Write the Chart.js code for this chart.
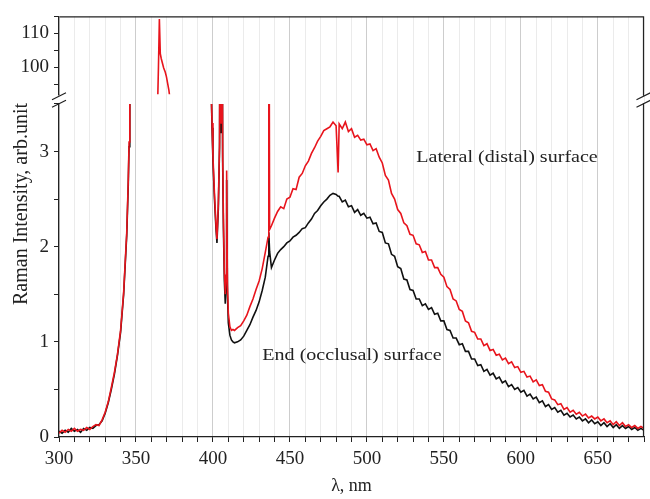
<!DOCTYPE html>
<html>
<head>
<meta charset="utf-8">
<script src="https://cdn.jsdelivr.net/npm/chart.js@4/dist/chart.umd.min.js"></script>
<style>
  html, body { margin: 0; padding: 0; background: #fff; }
  #wrap { width: 650px; height: 499px; }
</style>
</head>
<body>
<div id="wrap"><canvas id="ramanChart" width="650" height="499"></canvas></div>
<script>
// wavelength grid, nm
var wavelength = [
  300, 302, 304, 306, 308, 310, 312, 314, 316, 318, 320, 322, 324, 326, 328, 330, 332, 334, 336, 338, 340, 342, 344,
  345, 345.5, 346, 347,
  355, 362, 364, 364.6, 365.2, 365.8, 366.4, 367.2, 368, 369, 369.8, 370.6, 371.4, 372, 373, 380, 390, 398, 398.8,
  399.4, 400, 401, 402, 402.6, 403.5, 404.3, 404.8, 405.3, 405.8, 406.3, 406.8, 407.4, 408, 408.5, 408.9, 409.4, 410, 411, 412, 413, 414,
  416, 418, 420, 422, 424, 426, 428, 430, 432, 434,
  435.8, 436.3, 436.8, 438,
  440, 442, 444, 446, 448, 450, 452, 454, 456, 458, 460, 462, 464, 466, 468, 470, 472, 474, 476, 478, 480,
  481.3,
  482, 484, 486, 488, 490, 492, 494, 496, 498, 500,
  502, 504, 506, 508, 510, 512, 514, 516, 518, 520,
  522, 524, 526, 528, 530, 532, 534, 536, 538, 540,
  542, 544, 546, 548, 550, 552, 554, 556, 558, 560,
  562, 564, 566, 568, 570, 572, 574, 576, 578, 580,
  582, 584, 586, 588, 590, 592, 594, 596, 598, 600,
  602, 604, 606, 608, 610, 612, 614, 616, 618, 620,
  622, 624, 626, 628, 630, 632, 634, 636, 638, 640,
  642, 644, 646, 648, 650, 652, 654, 656, 658, 660,
  662, 664, 666, 668, 670, 672, 674, 676, 678, 680
];

// Lateral (distal) surface - red
var lateral = [
  0.04, 0.07, 0.05, 0.08, 0.06, 0.09, 0.06, 0.08, 0.07, 0.1, 0.08, 0.11, 0.13, 0.12, 0.18, 0.26, 0.37, 0.52, 0.68, 0.87, 1.12, 1.52, 2.15,
  2.7, 3.1, 3.7, 12,
  40, 75, 88, 100, 114.2, 104, 102.6, 101.2, 99.8, 98.6, 97.2, 95.2, 93.2, 91, 85, 60, 35, 12, 3.7,
  3.3, 2.95, 2.55, 2.22, 2.08, 2.45, 3.1, 6, 3.3, 6, 3.0, 2.3, 1.75, 1.5, 1.7, 2.8, 1.6, 1.3, 1.16, 1.12, 1.13, 1.12,
  1.15, 1.17, 1.22, 1.28, 1.37, 1.45, 1.55, 1.64, 1.77, 1.94,
  2.1, 6, 2.18, 2.22,
  2.3, 2.37, 2.42, 2.4, 2.5, 2.52, 2.61, 2.6, 2.73, 2.77, 2.85, 2.9, 2.98, 3.04, 3.11, 3.16, 3.22, 3.24, 3.26, 3.31, 3.27,
  2.78,
  3.29, 3.24, 3.31, 3.21, 3.24, 3.15, 3.17, 3.12, 3.13, 3.07,
  3.08, 3.01, 3.03, 2.94, 2.88, 2.75, 2.7, 2.56, 2.5, 2.39,
  2.35, 2.25, 2.22, 2.13, 2.12, 2.03, 2.02, 1.94, 1.95, 1.86,
  1.86, 1.78, 1.78, 1.71, 1.68, 1.58, 1.55, 1.45, 1.43, 1.34,
  1.32, 1.22, 1.2, 1.11, 1.1, 1.03, 1.03, 0.96, 0.98, 0.91,
  0.92, 0.86, 0.87, 0.81, 0.83, 0.77, 0.79, 0.73, 0.74, 0.68,
  0.69, 0.63, 0.64, 0.58, 0.6, 0.54, 0.55, 0.48, 0.47, 0.4,
  0.39, 0.34, 0.35, 0.29, 0.31, 0.26, 0.28, 0.24, 0.26, 0.22,
  0.24, 0.2, 0.22, 0.19, 0.21, 0.17, 0.19, 0.15, 0.17, 0.13,
  0.16, 0.12, 0.15, 0.11, 0.13, 0.1, 0.12, 0.09, 0.11, 0.09
];

// End (occlusal) surface - black
var occlusal = [
  0.06, 0.04, 0.07, 0.05, 0.09, 0.06, 0.08, 0.05, 0.09, 0.07, 0.1, 0.09, 0.12, 0.13, 0.17, 0.25, 0.36, 0.5, 0.66, 0.86, 1.1, 1.5, 2.12,
  2.65, 3.05, 3.7, 12,
  40, 75, 88, 100, 114, 103, 102, 100.5, 99, 98, 96.5, 95, 93, 91, 85, 60, 35, 12, 3.7,
  3.25, 2.9, 2.5, 2.18, 2.04, 2.4, 3.05, 6, 3.2, 6, 2.9, 2.2, 1.65, 1.4, 1.6, 2.7, 1.5, 1.2, 1.07, 1.02, 1.0, 0.99,
  1.0, 1.02, 1.06, 1.12, 1.18, 1.26, 1.33, 1.42, 1.54, 1.68,
  1.9, 2.15, 1.95, 1.78,
  1.86, 1.93, 1.97, 2.0, 2.04, 2.06, 2.1, 2.12, 2.15, 2.19, 2.2, 2.25, 2.29, 2.35, 2.38, 2.43, 2.47, 2.5, 2.54, 2.56, 2.55,
  2.53,
  2.53, 2.47, 2.49, 2.42, 2.43, 2.36, 2.39, 2.33, 2.35, 2.3,
  2.31, 2.24, 2.25, 2.16, 2.15, 2.04, 2.03, 1.92, 1.9, 1.79,
  1.77, 1.66, 1.65, 1.55, 1.54, 1.45, 1.45, 1.38, 1.4, 1.34,
  1.36, 1.29, 1.3, 1.22, 1.22, 1.13, 1.12, 1.04, 1.04, 0.97,
  0.98, 0.9, 0.9, 0.82, 0.82, 0.75, 0.76, 0.69, 0.71, 0.65,
  0.67, 0.61, 0.63, 0.57, 0.59, 0.53, 0.55, 0.5, 0.52, 0.47,
  0.49, 0.43, 0.45, 0.4, 0.42, 0.36, 0.38, 0.32, 0.34, 0.29,
  0.31, 0.26, 0.28, 0.23, 0.25, 0.21, 0.23, 0.19, 0.21, 0.17,
  0.19, 0.15, 0.18, 0.14, 0.16, 0.12, 0.15, 0.11, 0.14, 0.1,
  0.13, 0.09, 0.12, 0.09, 0.11, 0.08, 0.1, 0.07, 0.09, 0.07
];

var xTickLabels = [300, 350, 400, 450, 500, 550, 600, 650];
var yTickLabels = [0, 1, 2, 3];
var yTopTickLabels = [100, 110];

var serif = '"Liberation Serif", "Times New Roman", serif';

function toPoints(values) {
  return wavelength.map(function (w, i) { return { x: w, y: values[i] }; });
}

// clip each dataset to its own panel (lower panel stops at 3.5)
var panelClip = {
  id: 'panelClip',
  beforeDatasetDraw: function (chart, args) {
    var ds = chart.data.datasets[args.index];
    var ys = chart.scales[ds.yAxisID];
    var top = ys.getPixelForValue(ds.clipTop !== undefined ? ds.clipTop : ys.max);
    var area = chart.chartArea;
    var ctx = chart.ctx;
    ctx.save();
    ctx.beginPath();
    ctx.rect(area.left, top, area.right - area.left, ys.bottom - top);
    ctx.clip();
  },
  afterDatasetDraw: function (chart) {
    chart.ctx.restore();
  }
};

// draw text a bit wider, like the stretched original
function wideText(ctx, text, x, y, sx) {
  ctx.save();
  ctx.translate(x, y);
  ctx.scale(sx, 1);
  ctx.fillText(text, 0, 0);
  ctx.restore();
}

// frame, axis breaks and text
var frame = {
  id: 'frame',
  afterDraw: function (chart) {
    var ctx = chart.ctx;
    var a = chart.chartArea;
    var yLow = chart.scales.y;
    var yTop = chart.scales.y2;
    var gTop = yTop.bottom;
    var gBot = yLow.getPixelForValue(3.5);
    var g = (gTop + gBot) / 2;
    ctx.save();
    // erase left axis in the gap
    ctx.fillStyle = '#fff';
    ctx.fillRect(a.left - 2, gTop + 1, 4, gBot - gTop - 2);
    ctx.strokeStyle = '#222';
    ctx.lineWidth = 1.2;
    ctx.beginPath();
    ctx.moveTo(a.left + 0.5, a.top + 0.5);
    ctx.lineTo(a.right - 0.5, a.top + 0.5);
    ctx.lineTo(a.right - 0.5, gTop + 1);
    ctx.moveTo(a.right - 0.5, gBot - 1);
    ctx.lineTo(a.right - 0.5, a.bottom);
    [a.left, a.right - 0.5].forEach(function (x) {
      ctx.moveTo(x - 7, g + 0.5);
      ctx.lineTo(x + 7, g - 6.5);
      ctx.moveTo(x - 7, g + 8);
      ctx.lineTo(x + 7, g + 1);
    });
    ctx.stroke();

    ctx.fillStyle = '#222';
    ctx.font = '20px ' + serif;
    ctx.textAlign = 'center';
    ctx.textBaseline = 'middle';
    ctx.save();
    ctx.translate(22, 204);
    ctx.rotate(-Math.PI / 2);
    ctx.fillText('Raman Intensity, arb.unit', 0, 0);
    ctx.restore();
    ctx.font = '17px ' + serif;
    wideText(ctx, 'Lateral (distal) surface', 507, 158, 1.18);
    wideText(ctx, 'End (occlusal) surface', 352, 356, 1.18);
    ctx.restore();
  }
};

var ctx = document.getElementById('ramanChart').getContext('2d');
new Chart(ctx, {
  type: 'line',
  data: {
    datasets: [{
      label: 'Lateral (distal) surface',
      data: toPoints(lateral),
      yAxisID: 'y',
      clipTop: 3.5,
      borderColor: '#e8141c',
      borderWidth: 1.6,
      pointRadius: 0,
      tension: 0,
      order: 0
    }, {
      label: 'End (occlusal) surface',
      data: toPoints(occlusal),
      yAxisID: 'y',
      clipTop: 3.5,
      borderColor: '#111',
      borderWidth: 1.6,
      pointRadius: 0,
      tension: 0,
      order: 1
    }, {
      label: 'Lateral (distal) surface, upper',
      data: toPoints(lateral),
      yAxisID: 'y2',
      borderColor: '#e8141c',
      borderWidth: 1.6,
      pointRadius: 0,
      tension: 0,
      order: 0
    }]
  },
  options: {
    responsive: false,
    animation: false,
    layout: { padding: { top: 14, right: 4, left: 0, bottom: 0 } },
    plugins: {
      legend: { display: false },
      tooltip: { enabled: false }
    },
    scales: {
      x: {
        type: 'linear',
        min: 300,
        max: 680,
        afterFit: function (s) { s.height = 62; },
        ticks: {
          stepSize: 10,
          autoSkip: false,
          maxRotation: 0,
          padding: 6,
          color: '#222',
          font: { family: serif, size: 19 },
          callback: function (v) { return xTickLabels.indexOf(v) >= 0 ? String(v) : ''; }
        },
        grid: {
          color: function (c) { return c.tick && c.tick.value % 50 === 0 ? '#cdcdcd' : '#ebebeb'; },
          tickColor: '#222',
          tickLength: 5
        },
        border: { color: '#222', width: 1.2 },
        title: {
          display: true,
          text: 'λ, nm',
          color: '#222',
          font: { family: serif, size: 18 },
          padding: { top: 2, bottom: 2 }
        }
      },
      y: {
        type: 'linear',
        position: 'left',
        stack: 'panels',
        stackWeight: 344.5,
        min: 0,
        max: 3.6,
        afterFit: function (s) { s.width = 59; },
        ticks: {
          stepSize: 0.5,
          autoSkip: false,
          includeBounds: false,
          padding: 5,
          color: '#222',
          font: { family: serif, size: 19 },
          callback: function (v) { return yTickLabels.indexOf(v) >= 0 ? String(v) : ''; }
        },
        grid: { drawOnChartArea: false, tickColor: '#222', tickLength: 5 },
        border: { color: '#222', width: 1.2 }
      },
      y2: {
        type: 'linear',
        position: 'left',
        stack: 'panels',
        stackWeight: 78.5,
        min: 92,
        max: 115,
        afterFit: function (s) { s.width = 59; },
        ticks: {
          stepSize: 5,
          autoSkip: false,
          includeBounds: false,
          padding: 5,
          color: '#222',
          font: { family: serif, size: 19 },
          callback: function (v) { return yTopTickLabels.indexOf(v) >= 0 ? String(v) : ''; }
        },
        grid: { drawOnChartArea: false, tickColor: '#222', tickLength: 5 },
        border: { color: '#222', width: 1.2 }
      }
    }
  },
  plugins: [panelClip, frame]
});
</script>
</body>
</html>
